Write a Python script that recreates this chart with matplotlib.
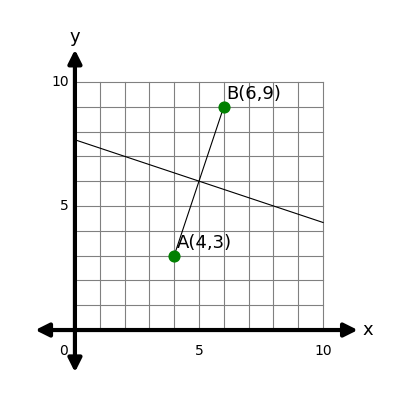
import matplotlib
matplotlib.use("Agg")
import matplotlib.pyplot as plt
import numpy as np

pts_x = [4, 6]
pts_y = [3, 9]
pt_labels = ["A(4,3)", "B(6,9)"]
bis_x = [0, 10]
bis_y = [23/3, 13/3]
ticks = [5, 10]

fig = plt.figure(figsize=(4, 4), dpi=100)
ax = fig.add_axes([0, 0, 1, 1])
ax.set_xlim(-3.02, 13.1)
ax.set_ylim(-2.82, 13.3)
ax.axis("off")

for i in range(11):
    ax.plot([i, i], [0, 10], color="gray", lw=0.8, zorder=1)
    ax.plot([0, 10], [i, i], color="gray", lw=0.8, zorder=1)

ap = dict(arrowstyle="<|-|>,head_length=0.8,head_width=0.4", color="black", lw=3, shrinkA=0, shrinkB=0)
ax.annotate("", xy=(11.4, 0), xytext=(-1.6, 0), arrowprops=ap, zorder=3)
ax.annotate("", xy=(0, 11.3), xytext=(0, -1.7), arrowprops=ap, zorder=3)

ax.text(11.6, 0, "x", fontsize=13, va="center", ha="left")
ax.text(0, 11.8, "y", fontsize=13, va="center", ha="center")
for t in ticks:
    ax.text(t, -0.55, str(t), fontsize=10, ha="center", va="top")
    ax.text(-0.25, t, str(t), fontsize=10, ha="right", va="center")
ax.text(-0.3, -0.55, "0", fontsize=10, ha="right", va="top")

ax.plot(pts_x, pts_y, color="black", lw=0.8, zorder=2)
ax.plot(bis_x, bis_y, color="black", lw=0.8, zorder=2)
ax.scatter(pts_x, pts_y, s=60, color="green", zorder=4)
for x, y, l in zip(pts_x, pts_y, pt_labels):
    ax.text(x + 0.1, y + 0.15, l, fontsize=13, ha="left", va="bottom", zorder=5)

fig.savefig("out.png")
